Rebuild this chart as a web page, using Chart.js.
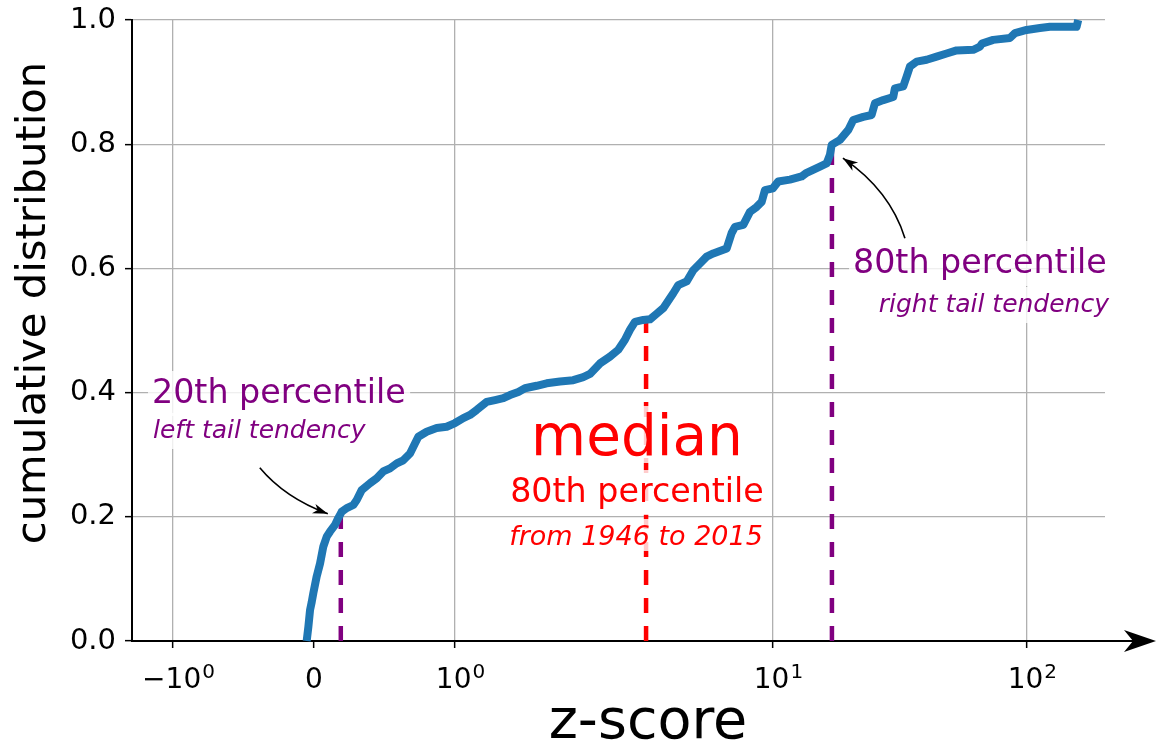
<!DOCTYPE html>
<html>
<head>
<meta charset="utf-8">
<script src="https://cdn.jsdelivr.net/npm/chart.js@4.4.1/dist/chart.umd.min.js"></script>
<style>
  html, body { margin: 0; padding: 0; background: #fff; }
  #wrap { width: 1159px; height: 745px; }
</style>
</head>
<body>
<div id="wrap"><canvas id="c" width="1159" height="745"></canvas></div>
<script>
// ---- data -------------------------------------------------------------
// empirical cumulative distribution of z-scores
const cdfX = [
  -0.052, -0.040, -0.028, -0.016, -0.005, 0.019, 0.043, 0.066, 0.090, 0.113,
  0.149, 0.172, 0.196, 0.232, 0.279, 0.303, 0.338, 0.397, 0.445, 0.491,
  0.539, 0.587, 0.633, 0.681, 0.716, 0.740, 0.799, 0.870, 0.941, 1.000,
  1.062, 1.115, 1.170, 1.258, 1.336, 1.419, 1.489, 1.582, 1.660, 1.807,
  1.943, 2.139, 2.355, 2.532, 2.658, 2.858, 3.072, 3.263, 3.424, 3.550,
  3.681, 3.909, 4.105, 4.308, 4.519, 4.859, 5.038, 5.354, 5.616, 5.894,
  6.187, 6.491, 7.152, 7.416, 7.596, 8.066, 8.467, 8.887, 9.215, 9.437,
  10.0, 10.49, 11.66, 12.97, 13.57, 15.31, 16.27, 16.77, 17.03, 18.36,
  19.80, 20.71, 22.67, 24.46, 25.21, 27.19, 29.76, 30.22, 32.58, 33.61,
  34.63, 36.80, 40.29, 44.10, 48.29, 52.88, 61.48, 65.31, 66.50, 73.67,
  85.71, 89.73, 99.73, 112.5, 123.2, 156.9, 159.2
];
const cdfY = [
  0.000, 0.023, 0.050, 0.063, 0.077, 0.104, 0.125, 0.152, 0.168, 0.176,
  0.187, 0.198, 0.208, 0.214, 0.219, 0.227, 0.243, 0.254, 0.262, 0.273,
  0.278, 0.286, 0.291, 0.302, 0.318, 0.329, 0.337, 0.343, 0.345, 0.351,
  0.359, 0.364, 0.372, 0.385, 0.388, 0.391, 0.396, 0.401, 0.407, 0.411,
  0.415, 0.418, 0.420, 0.425, 0.430, 0.447, 0.458, 0.469, 0.485, 0.501,
  0.514, 0.517, 0.518, 0.527, 0.536, 0.560, 0.573, 0.579, 0.597, 0.608,
  0.619, 0.624, 0.632, 0.657, 0.667, 0.670, 0.691, 0.699, 0.707, 0.726,
  0.729, 0.740, 0.743, 0.748, 0.754, 0.764, 0.769, 0.783, 0.799, 0.807,
  0.823, 0.839, 0.844, 0.847, 0.866, 0.871, 0.876, 0.890, 0.893, 0.909,
  0.925, 0.933, 0.936, 0.941, 0.946, 0.951, 0.952, 0.957, 0.962, 0.968,
  0.971, 0.979, 0.984, 0.987, 0.989, 0.989, 1.000
];

// 20th percentile, median, 80th percentile markers
const percentileX = [0.19, 3.99, 17.07];
const percentileY = [0.2, 0.52, 0.8];

// x ticks: base text and its exponent
const xTickValues = [-1, 0, 1, 10, 100];
const xTickBase = ['\u221210', '0', '10', '10', '10'];
const xTickExp = ['0', '', '0', '1', '2'];
const yTickValues = [0, 0.2, 0.4, 0.6, 0.8, 1.0];
const yTickLabels = ['0.0', '0.2', '0.4', '0.6', '0.8', '1.0'];

const xLimits = [-1.346, 203];
const yLimits = [0, 1];

// ---- style ------------------------------------------------------------
const PURPLE = '#800080';
const RED = '#ff0000';
const BLUE = '#1f77b4';
const GRID = '#b0b0b0';
const FONT = '"DejaVu Sans", "Liberation Sans", sans-serif';
const markerColors = [PURPLE, RED, PURPLE];

// ---- symmetric log axis --------------------------------------------------
// linear inside [-1, 1]; logarithmic outside, first decade wider than the next ones
const DECADE_1 = 2.2553;
const DECADE_N = 1.8014;
function symFwd(v) {
  const a = Math.abs(v);
  if (a <= 1) return v;
  const t = Math.log10(a);
  const u = t <= 1 ? 1 + DECADE_1 * t : 1 + DECADE_1 + DECADE_N * (t - 1);
  return Math.sign(v) * u;
}
function symInv(u) {
  const a = Math.abs(u);
  if (a <= 1) return u;
  const t = a <= 1 + DECADE_1 ? (a - 1) / DECADE_1 : 1 + (a - 1 - DECADE_1) / DECADE_N;
  return Math.sign(u) * Math.pow(10, t);
}

class SymlogScale extends Chart.Scale {
  static id = 'symlog';
  static defaults = {};
  determineDataLimits() {
    const { min, max } = this.getMinMax(true);
    this.min = min;
    this.max = max;
  }
  buildTicks() {
    return xTickValues.map(v => ({ value: v }));
  }
  getLabelForValue(v) { return String(v); }
  configure() {
    super.configure();
    this._u0 = symFwd(this.min);
    this._u1 = symFwd(this.max);
  }
  getPixelForValue(v) {
    return this.getPixelForDecimal((symFwd(v) - this._u0) / (this._u1 - this._u0));
  }
  getValueForPixel(p) {
    return symInv(this._u0 + this.getDecimalForPixel(p) * (this._u1 - this._u0));
  }
}
Chart.register(SymlogScale);

// fixed axis boxes, no extra room for overhanging labels
function fixBox(size, horizontal) {
  return s => {
    if (horizontal) s.height = size; else s.width = size;
    s.paddingTop = 0;
    s.paddingBottom = 0;
    s.paddingLeft = 0;
    s.paddingRight = 0;
  };
}

// ---- annotations --------------------------------------------------------
const notes = [
  { text: '20th percentile', x: 152, y: 403, size: 33.3, color: PURPLE, align: 'left' },
  { text: 'left tail tendency', x: 153, y: 438, size: 25, color: PURPLE, align: 'left', italic: true },
  { text: 'median', x: 637, y: 455, size: 56.5, color: RED, align: 'center' },
  { text: '80th percentile', x: 637, y: 502, size: 33.3, color: RED, align: 'center' },
  { text: 'from 1946 to 2015', x: 636, y: 545, size: 27, color: RED, align: 'center', italic: true },
  { text: '80th percentile', x: 853, y: 273, size: 33.3, color: PURPLE, align: 'left' },
  { text: 'right tail tendency', x: 1109, y: 312, size: 25, color: PURPLE, align: 'right', italic: true }
];

function arrowHead(ctx, tx, ty, fx, fy, len, half) {
  const ang = Math.atan2(ty - fy, tx - fx);
  ctx.save();
  ctx.translate(tx, ty);
  ctx.rotate(ang);
  ctx.beginPath();
  ctx.moveTo(0, 0);
  ctx.lineTo(-len, -half);
  ctx.lineTo(-len * 0.72, 0);
  ctx.lineTo(-len, half);
  ctx.closePath();
  ctx.fill();
  ctx.restore();
}

function curvedArrow(ctx, sx, sy, cx, cy, tx, ty) {
  ctx.save();
  ctx.strokeStyle = '#000';
  ctx.fillStyle = '#000';
  ctx.lineWidth = 1.6;
  ctx.beginPath();
  ctx.moveTo(sx, sy);
  ctx.quadraticCurveTo(cx, cy, tx, ty);
  ctx.stroke();
  arrowHead(ctx, tx, ty, cx, cy, 15, 5);
  ctx.restore();
}

const decor = {
  id: 'decor',
  afterDatasetsDraw(chart) {
    const { ctx, chartArea } = chart;
    const xs = chart.scales.x, ys = chart.scales.y;

    // x axis continues into an arrow
    const axisY = chartArea.bottom;
    ctx.save();
    ctx.strokeStyle = '#000';
    ctx.fillStyle = '#000';
    ctx.lineWidth = 2;
    ctx.beginPath();
    ctx.moveTo(chartArea.right - 1, axisY);
    ctx.lineTo(1136, axisY);
    ctx.stroke();
    ctx.beginPath();
    ctx.moveTo(1156, axisY);
    ctx.lineTo(1124, axisY - 11);
    ctx.lineTo(1133, axisY);
    ctx.lineTo(1124, axisY + 11);
    ctx.closePath();
    ctx.fill();
    ctx.restore();

    // x tick labels with raised exponents
    ctx.save();
    ctx.fillStyle = '#000';
    ctx.textAlign = 'left';
    ctx.textBaseline = 'alphabetic';
    const baseFont = '28px ' + FONT, expFont = '20px ' + FONT;
    const labelBase = axisY + 47;
    xTickValues.forEach((v, i) => {
      const px = xs.getPixelForValue(v) + (xTickExp[i] ? 5 : 0);
      ctx.font = baseFont;
      const wb = ctx.measureText(xTickBase[i]).width;
      ctx.font = expFont;
      const we = xTickExp[i] ? ctx.measureText(xTickExp[i]).width : 0;
      const start = px - (wb + we) / 2;
      ctx.font = baseFont;
      ctx.fillText(xTickBase[i], start, labelBase);
      if (xTickExp[i]) {
        ctx.font = expFont;
        ctx.fillText(xTickExp[i], start + wb + 1, labelBase - 10);
      }
    });
    ctx.restore();

    // text labels on translucent white boxes
    ctx.save();
    notes.forEach(n => {
      ctx.font = (n.italic ? 'italic ' : '') + n.size + 'px ' + FONT;
      ctx.textAlign = n.align;
      ctx.textBaseline = 'alphabetic';
      const m = ctx.measureText(n.text);
      const pad = 6;
      const left = n.x - m.actualBoundingBoxLeft;
      const right = n.x + m.actualBoundingBoxRight;
      const top = n.y - m.actualBoundingBoxAscent;
      const bottom = n.y + m.actualBoundingBoxDescent;
      ctx.fillStyle = 'rgba(255,255,255,0.8)';
      ctx.fillRect(left - pad, top - pad, right - left + 2 * pad, bottom - top + 2 * pad);
      ctx.fillStyle = n.color;
      ctx.fillText(n.text, n.x, n.y);
    });
    ctx.restore();

    // arrows pointing at the tail percentiles
    const lx = xs.getPixelForValue(percentileX[0]), ly = ys.getPixelForValue(percentileY[0]);
    const ltx = lx - 13, lty = ly - 3;
    curvedArrow(ctx, ltx - 68, lty - 46, ltx - 43, lty - 16, ltx, lty);
    const rx = xs.getPixelForValue(percentileX[2]), ry = ys.getPixelForValue(percentileY[2]);
    const rtx = rx + 11, rty = ry + 14;
    curvedArrow(ctx, rtx + 62, rty + 80, rtx + 47, rty + 32, rtx, rty);

    // axis titles
    ctx.save();
    ctx.fillStyle = '#000';
    ctx.textAlign = 'center';
    ctx.textBaseline = 'alphabetic';
    ctx.font = '55.6px ' + FONT;
    ctx.fillText('z-score', 648, 738);
    ctx.translate(45, 303);
    ctx.rotate(-Math.PI / 2);
    ctx.font = '41.7px ' + FONT;
    ctx.fillText('cumulative distribution', 0, 0);
    ctx.restore();
  }
};

// ---- chart --------------------------------------------------------------
const datasets = [
  {
    data: cdfX.map((x, i) => ({ x, y: cdfY[i] })),
    borderColor: BLUE,
    borderWidth: 8,
    borderJoinStyle: 'round',
    borderCapStyle: 'butt',
    pointRadius: 0,
    tension: 0,
    clip: false
  }
].concat(percentileX.map((x, i) => ({
  data: [{ x, y: 0 }, { x, y: percentileY[i] }],
  borderColor: markerColors[i],
  borderWidth: 4.5,
  borderDash: [15, 13],
  borderCapStyle: 'butt',
  pointRadius: 0,
  clip: false
})));

new Chart(document.getElementById('c'), {
  type: 'line',
  data: { datasets },
  options: {
    responsive: false,
    animation: false,
    layout: { padding: { top: 20, right: 54, left: 0, bottom: 0 } },
    plugins: { legend: { display: false }, tooltip: { enabled: false } },
    scales: {
      x: {
        type: 'symlog',
        min: xLimits[0],
        max: xLimits[1],
        afterFit: fixBox(104, true),
        border: { display: true, color: '#000', width: 2 },
        grid: {
          color: c => (c.tick && c.tick.value === 0 ? 'rgba(0,0,0,0)' : GRID),
          lineWidth: 1.3,
          tickColor: '#000',
          tickLength: 7,
          tickWidth: 1.5
        },
        ticks: {
          autoSkip: false,
          maxRotation: 0,
          padding: 10,
          color: '#000',
          font: { family: FONT, size: 28 },
          callback: () => ''
        }
      },
      y: {
        type: 'linear',
        min: yLimits[0],
        max: yLimits[1],
        afterFit: fixBox(132, false),
        afterBuildTicks: s => { s.ticks = yTickValues.map(v => ({ value: v })); },
        border: { display: true, color: '#000', width: 2 },
        grid: {
          color: GRID,
          lineWidth: 1.3,
          tickColor: '#000',
          tickLength: 7,
          tickWidth: 1.5
        },
        ticks: {
          padding: 9,
          color: '#000',
          font: { family: FONT, size: 29 },
          callback: (v, i) => yTickLabels[i]
        }
      }
    }
  },
  plugins: [decor]
});
</script>
</body>
</html>
